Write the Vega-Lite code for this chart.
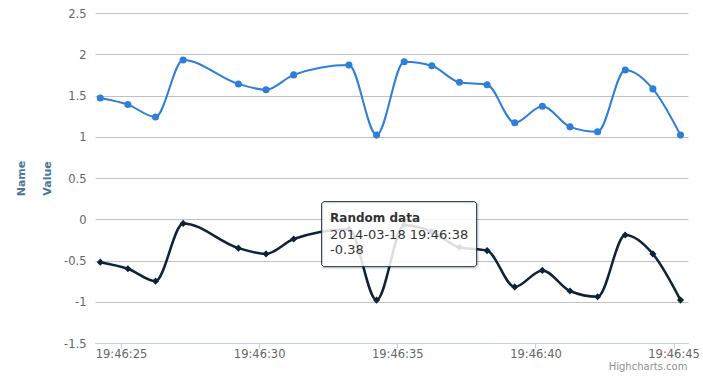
{
  "$schema": "https://vega.github.io/schema/vega-lite/v6.json",
  "width": 593,
  "height": 330,
  "autosize": "none",
  "padding": {"left": 95, "top": 13, "right": 15, "bottom": 41},
  "background": "#ffffff",
  "title": {"text": "Highcharts.com", "orient": "bottom", "anchor": "end", "fontSize": 10, "color": "#909090", "fontWeight": "normal", "offset": 2, "dx": -12},
  "config": {
    "view": {"stroke": null},
    "font": "DejaVu Sans",
    "axisX": {"domainColor": "#C0D0E0", "tickColor": "#C0D0E0", "tickSize": 5, "labelColor": "#666666", "labelFontSize": 11.5, "grid": false, "labelPadding": 9, "labelBaseline": "alphabetic", "labelFlush": false, "labelOverlap": false},
    "axisY": {"domain": false, "ticks": false, "gridColor": "#C0C0C0", "labelColor": "#666666", "labelFontSize": 11.5, "labelPadding": 9, "labelOffset": 1, "titleColor": "#4d759e", "titleFontWeight": "bold", "titleFontSize": 11, "titlePadding": 11, "titleLineHeight": 26.5}
  },
  "data": {"values": [
    {"s": "A", "t": "2014-03-18T19:46:24.250", "v": 1.47},
    {"s": "A", "t": "2014-03-18T19:46:25.250", "v": 1.39},
    {"s": "A", "t": "2014-03-18T19:46:26.250", "v": 1.24},
    {"s": "A", "t": "2014-03-18T19:46:27.250", "v": 1.93},
    {"s": "A", "t": "2014-03-18T19:46:29.250", "v": 1.64},
    {"s": "A", "t": "2014-03-18T19:46:30.250", "v": 1.57},
    {"s": "A", "t": "2014-03-18T19:46:31.250", "v": 1.75},
    {"s": "A", "t": "2014-03-18T19:46:33.250", "v": 1.87},
    {"s": "A", "t": "2014-03-18T19:46:34.250", "v": 1.02},
    {"s": "A", "t": "2014-03-18T19:46:35.250", "v": 1.91},
    {"s": "A", "t": "2014-03-18T19:46:36.250", "v": 1.86},
    {"s": "A", "t": "2014-03-18T19:46:37.250", "v": 1.66},
    {"s": "A", "t": "2014-03-18T19:46:38.250", "v": 1.63},
    {"s": "A", "t": "2014-03-18T19:46:39.250", "v": 1.17},
    {"s": "A", "t": "2014-03-18T19:46:40.250", "v": 1.37},
    {"s": "A", "t": "2014-03-18T19:46:41.250", "v": 1.12},
    {"s": "A", "t": "2014-03-18T19:46:42.250", "v": 1.06},
    {"s": "A", "t": "2014-03-18T19:46:43.250", "v": 1.81},
    {"s": "A", "t": "2014-03-18T19:46:44.250", "v": 1.58},
    {"s": "A", "t": "2014-03-18T19:46:45.250", "v": 1.02},
    {"s": "B", "t": "2014-03-18T19:46:24.250", "v": -0.52},
    {"s": "B", "t": "2014-03-18T19:46:25.250", "v": -0.60},
    {"s": "B", "t": "2014-03-18T19:46:26.250", "v": -0.75},
    {"s": "B", "t": "2014-03-18T19:46:27.250", "v": -0.05},
    {"s": "B", "t": "2014-03-18T19:46:29.250", "v": -0.35},
    {"s": "B", "t": "2014-03-18T19:46:30.250", "v": -0.42},
    {"s": "B", "t": "2014-03-18T19:46:31.250", "v": -0.24},
    {"s": "B", "t": "2014-03-18T19:46:33.250", "v": -0.12},
    {"s": "B", "t": "2014-03-18T19:46:34.250", "v": -0.98},
    {"s": "B", "t": "2014-03-18T19:46:35.250", "v": -0.07},
    {"s": "B", "t": "2014-03-18T19:46:36.250", "v": -0.15},
    {"s": "B", "t": "2014-03-18T19:46:37.250", "v": -0.34},
    {"s": "B", "t": "2014-03-18T19:46:38.250", "v": -0.38},
    {"s": "B", "t": "2014-03-18T19:46:39.250", "v": -0.82},
    {"s": "B", "t": "2014-03-18T19:46:40.250", "v": -0.62},
    {"s": "B", "t": "2014-03-18T19:46:41.250", "v": -0.87},
    {"s": "B", "t": "2014-03-18T19:46:42.250", "v": -0.94},
    {"s": "B", "t": "2014-03-18T19:46:43.250", "v": -0.19},
    {"s": "B", "t": "2014-03-18T19:46:44.250", "v": -0.42},
    {"s": "B", "t": "2014-03-18T19:46:45.250", "v": -0.98}
  ]},
  "encoding": {
    "x": {"field": "t", "type": "temporal",
      "scale": {"domain": [
        {"year": 2014, "month": 3, "date": 18, "hours": 19, "minutes": 46, "seconds": 24, "milliseconds": 59},
        {"year": 2014, "month": 3, "date": 18, "hours": 19, "minutes": 46, "seconds": 45, "milliseconds": 521}
      ], "nice": false},
      "axis": {"title": null, "format": "%H:%M:%S", "tickCount": 5}},
    "y": {"field": "v", "type": "quantitative",
      "scale": {"domain": [-1.5, 2.5], "nice": false, "zero": false},
      "axis": {"title": ["Name", "Value"], "values": [-1.5, -1, -0.5, 0, 0.5, 1, 1.5, 2, 2.5], "labelExpr": "toString(datum.value)"}}
  },
  "layer": [
    {
      "transform": [{"filter": "datum.s == 'A'"}],
      "mark": {"type": "line", "interpolate": "monotone", "strokeWidth": 2, "color": "#2f7ed8"}
    },
    {
      "transform": [{"filter": "datum.s == 'B'"}],
      "mark": {"type": "line", "interpolate": "monotone", "strokeWidth": 2.5, "color": "#0d233a"}
    },
    {
      "mark": {"type": "point", "filled": true, "opacity": 1, "size": 50},
      "encoding": {
        "color": {"field": "s", "type": "nominal", "scale": {"domain": ["A", "B"], "range": ["#2f7ed8", "#0d233a"]}, "legend": null},
        "shape": {"field": "s", "type": "nominal", "scale": {"domain": ["A", "B"], "range": ["circle", "diamond"]}, "legend": null}
      }
    },
    {
      "transform": [{"filter": "datum.s == 'B' && datum.v == -0.38"}],
      "mark": {"type": "point", "shape": "M-163.4,-47.9 L-11.4,-47.9 L-9.4,-45.9 L-9.4,15.1 L-11.4,17.1 L-163.4,17.1 L-164.4,15.1 L-164.4,-45.9 Z", "size": 4, "filled": false, "stroke": "#000000", "strokeOpacity": 0.1, "strokeWidth": 3, "opacity": 1}
    },
    {
      "transform": [{"filter": "datum.s == 'B' && datum.v == -0.38"}],
      "mark": {"type": "point", "shape": "M-163.4,-48.9 L-12.4,-48.9 L-10.4,-46.9 L-10.4,14.1 L-12.4,16.1 L-163.4,16.1 L-165.4,14.1 L-165.4,-46.9 Z", "size": 4, "filled": true, "fill": "#ffffff", "fillOpacity": 0.85, "stroke": "#0d233a", "strokeWidth": 1, "opacity": 1}
    },
    {
      "transform": [{"filter": "datum.s == 'B' && datum.v == -0.38"}],
      "mark": {"type": "text", "text": "Random data", "align": "left", "baseline": "alphabetic", "dx": -157, "dy": -28.3, "fontSize": 12, "fontWeight": "bold", "color": "#333333"}
    },
    {
      "transform": [{"filter": "datum.s == 'B' && datum.v == -0.38"}],
      "mark": {"type": "text", "text": "2014-03-18 19:46:38", "align": "left", "baseline": "alphabetic", "dx": -157, "dy": -11.3, "fontSize": 13, "color": "#333333"}
    },
    {
      "transform": [{"filter": "datum.s == 'B' && datum.v == -0.38"}],
      "mark": {"type": "text", "text": "-0.38", "align": "left", "baseline": "alphabetic", "dx": -157, "dy": 3.7, "fontSize": 13, "color": "#333333"}
    }
  ]
}
